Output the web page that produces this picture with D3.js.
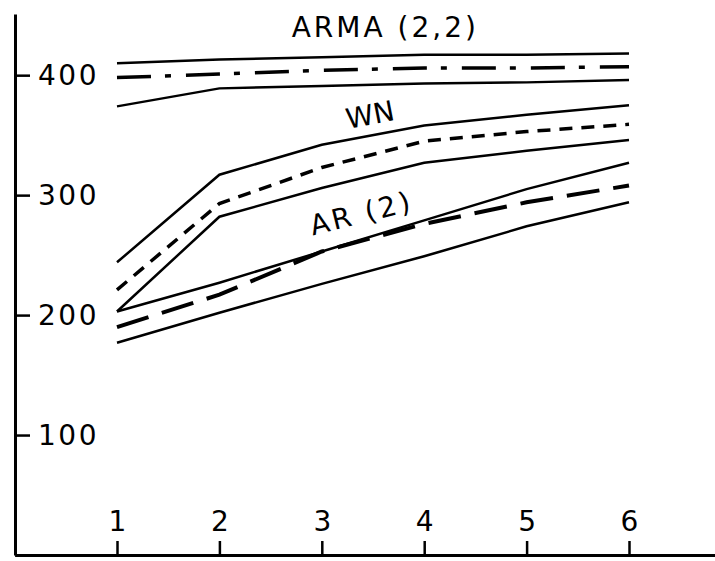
<!DOCTYPE html>
<html>
<head>
<meta charset="utf-8">
<script src="https://cdn.jsdelivr.net/npm/d3@7"></script>
<style>
    body { margin: 0; background: #fff; }
    svg text { font-family: "DejaVu Sans", sans-serif; fill: #000; }
</style>
</head>
<body>
<svg id="chart" width="715" height="561"></svg>
<script>
// lag on the x axis
let lags = [1, 2, 3, 4, 5, 6];

// ARMA (2,2): upper band, estimate (dash-dot), lower band
let armaUpper = [410, 413, 415, 417, 417, 418];
let armaMid   = [398, 401, 404, 406, 406, 407];
let armaLower = [374, 389, 391, 393, 394, 396];

// WN: upper band, estimate (short dash), lower band
let wnUpper = [244, 317, 342, 358, 367, 375];
let wnMid   = [221, 293, 323, 345, 353, 359];
let wnLower = [203, 282, 306, 327, 337, 346];

// AR (2): upper band, estimate (long dash), lower band
let arUpper = [203, 227, 253, 279, 305, 327];
let arMid   = [190, 217, 253, 276, 294, 308];
let arLower = [177, 202, 226, 249, 274, 294];

let yTicks = [100, 200, 300, 400];
let xTicks = [1, 2, 3, 4, 5, 6];

let svg = d3.select("#chart");

// scales (extended a bit past the data so the axis lines run like the original)
let x = d3.scaleLinear().domain([0, 7]).range([14.6, 731.4]);
let y = d3.scaleLinear().domain([0, 451]).range([555, 14]);

/** y axis, ticks pointing right into the plot */
let yAxis = d3.axisRight(y)
    .tickValues(yTicks)
    .tickFormat(d3.format("d"))
    .tickSize(15)
    .tickSizeOuter(0)
    .tickPadding(8);

let gy = svg.append("g")
    .attr("transform", "translate(15,0)")
    .call(yAxis);

gy.select(".domain").attr("stroke", "#000").attr("stroke-width", 3);
gy.selectAll(".tick line").attr("stroke", "#000").attr("stroke-width", 2.5);
gy.selectAll(".tick text")
    .attr("font-size", 28)
    .attr("letter-spacing", 2.5)
    .attr("fill", "#000")
    .attr("font-family", "DejaVu Sans, sans-serif");

/** x axis, ticks pointing up, labels above */
let xAxis = d3.axisTop(x)
    .tickValues(xTicks)
    .tickFormat(d3.format("d"))
    .tickSize(14)
    .tickSizeOuter(0)
    .tickPadding(10);

let gx = svg.append("g")
    .attr("transform", "translate(0,555)")
    .call(xAxis);

gx.select(".domain").attr("stroke", "#000").attr("stroke-width", 3);
gx.selectAll(".tick line").attr("stroke", "#000").attr("stroke-width", 2.5);
gx.selectAll(".tick text")
    .attr("font-size", 28)
    .attr("fill", "#000")
    .attr("font-family", "DejaVu Sans, sans-serif");

// lines
let line = d3.line()
    .x((d, i) => x(lags[i]))
    .y(d => y(d));

let series = [
    {vals: armaUpper, dash: null, w: 2.5},
    {vals: armaLower, dash: null, w: 2.5},
    {vals: armaMid, dash: "34,14,6,15", w: 3.5},
    {vals: wnUpper, dash: null, w: 2.5},
    {vals: wnLower, dash: null, w: 2.5},
    {vals: wnMid, dash: "13,9", w: 3.5},
    {vals: arUpper, dash: null, w: 2.5},
    {vals: arLower, dash: null, w: 2.5},
    {vals: arMid, dash: "33,14", w: 4}
];

svg.append("g").selectAll("path")
    .data(series)
    .enter().append("path")
    .attr("d", d => line(d.vals))
    .attr("fill", "none")
    .attr("stroke", "#000")
    .attr("stroke-width", d => d.w)
    .attr("stroke-dasharray", d => d.dash);

// curve labels
let labels = [
    {text: "ARMA (2,2)", lag: 3.62, val: 432, rot: 0, ls: 3},
    {text: "WN", lag: 3.49, val: 359, rot: -11, ls: 0},
    {text: "AR (2)", lag: 3.41, val: 277, rot: -14, ls: 3}
];

svg.append("g").selectAll("text")
    .data(labels)
    .enter().append("text")
    .attr("transform", d => "translate(" + x(d.lag) + "," + y(d.val) + ") rotate(" + d.rot + ")")
    .attr("text-anchor", "middle")
    .attr("font-size", 28)
    .attr("letter-spacing", d => d.ls)
    .text(d => d.text);
</script>
</body>
</html>
